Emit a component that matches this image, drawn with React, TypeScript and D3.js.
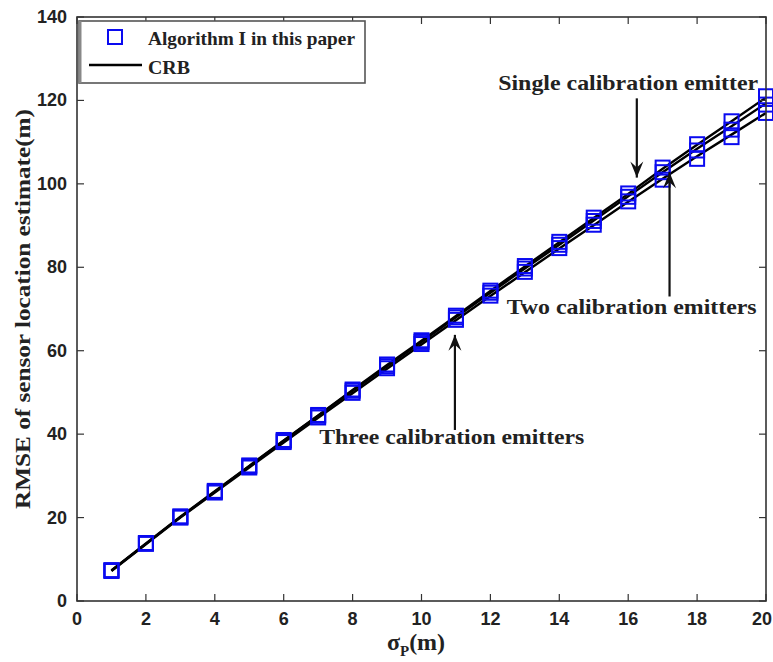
import React, { useEffect } from "react";
import * as d3 from "d3";

// x: position error std σp (m)
const sigmaP = [1, 2, 3, 4, 5, 6, 7, 8, 9, 10, 11, 12, 13, 14, 15, 16, 17, 18, 19, 20];

// RMSE of sensor location estimate (m), Algorithm I
const algSingle = [7.4, 13.9, 20.3, 26.4, 32.5, 38.6, 44.6, 50.7, 56.7, 62.5, 68.4, 74.4, 80.3, 86.1, 91.9, 97.7, 103.9, 109.5, 115.0, 121.0];
const algTwo = [7.3, 13.8, 20.1, 26.2, 32.3, 38.4, 44.4, 50.4, 56.3, 62.1, 68.0, 73.9, 79.7, 85.4, 91.1, 96.9, 102.8, 108.0, 113.0, 119.0];
const algThree = [7.2, 13.7, 20.0, 26.0, 32.0, 38.1, 44.0, 49.9, 55.8, 61.6, 67.4, 73.2, 78.9, 84.6, 90.2, 95.8, 101.0, 106.0, 111.2, 117.0];

// Cramér–Rao bound for the same three configurations
const crbSingle = [7.3, 13.8, 20.2, 26.3, 32.4, 38.5, 44.5, 50.6, 56.6, 62.4, 68.3, 74.3, 80.2, 86.0, 91.8, 97.6, 103.6, 109.4, 115.0, 120.7];
const crbTwo = [7.3, 13.7, 20.1, 26.2, 32.3, 38.4, 44.4, 50.4, 56.3, 62.1, 68.0, 73.9, 79.7, 85.4, 91.2, 97.0, 102.8, 108.4, 113.8, 119.3];
const crbThree = [7.2, 13.6, 20.0, 26.0, 32.0, 38.0, 43.9, 49.8, 55.7, 61.5, 67.3, 73.1, 78.8, 84.5, 90.1, 95.7, 101.2, 106.6, 111.8, 117.0];

const xTicks = [0, 2, 4, 6, 8, 10, 12, 14, 16, 18, 20];
const yTicks = [0, 20, 40, 60, 80, 100, 120, 140];

const legendLabels = ["Algorithm I in this paper", "CRB"];

// annotation texts with arrow tail/tip in data coordinates
const notes = [
  { text: "Single calibration emitter", tx: 16.0, ty: 122.5, len: 260, from: [16.25, 120.5], to: [16.25, 101.5] },
  { text: "Two calibration emitters", tx: 16.1, ty: 68.8, len: 250, from: [17.2, 73.0], to: [17.2, 102.8] },
  { text: "Three calibration emitters", tx: 10.88, ty: 37.6, len: 265, from: [10.97, 41.0], to: [10.97, 63.8] },
];

const W = 773;
const H = 662;
const M = { left: 77, right: 766, top: 17, bottom: 601 };

const serif = "'Liberation Serif', 'Times New Roman', serif";
const narrow = "'Liberation Sans Narrow', 'Arial Narrow', 'Liberation Sans', Arial, sans-serif";

export default function App() {
  useEffect(() => {
    document.body.style.margin = "0";
  }, []);

  const x = d3.scaleLinear().domain([0, 20]).range([M.left, M.right]);
  const y = d3.scaleLinear().domain([0, 140]).range([M.bottom, M.top]);

  const line = d3
    .line<number>()
    .x((_, i) => x(sigmaP[i]))
    .y((d) => y(d));

  const crbs = [crbSingle, crbTwo, crbThree];
  const algs = [algSingle, algTwo, algThree];
  const ms = 14;
  const tick = 7;
  const blue = "#0a0af0";

  const arrowHead = (x1: number, y1: number, x2: number, y2: number) => {
    const ang = Math.atan2(y2 - y1, x2 - x1);
    const len = 16;
    const half = 6.5;
    const back = 10;
    const ux = Math.cos(ang);
    const uy = Math.sin(ang);
    const px = -uy;
    const py = ux;
    const bx = x2 - ux * len;
    const by = y2 - uy * len;
    const nx = x2 - ux * back;
    const ny = y2 - uy * back;
    return `M${x2},${y2} L${bx + px * half},${by + py * half} L${nx},${ny} L${bx - px * half},${by - py * half} Z`;
  };

  return (
    <svg width={W} height={H} style={{ position: "absolute", left: 0, top: 0, background: "#fff" }}>
      {/* CRB curves */}
      {crbs.map((c, k) => (
        <path key={"crb" + k} d={line(c) || ""} fill="none" stroke="#000" strokeWidth={2.4} />
      ))}

      {/* Algorithm I markers */}
      {algs.map((a, k) =>
        a.map((v, i) => (
          <rect
            key={`m${k}-${i}`}
            x={x(sigmaP[i]) - ms / 2}
            y={y(v) - ms / 2}
            width={ms}
            height={ms}
            fill="none"
            stroke={blue}
            strokeWidth={2}
          />
        ))
      )}

      {/* axes box */}
      <rect x={M.left} y={M.top} width={M.right - M.left} height={M.bottom - M.top} fill="none" stroke="#333" strokeWidth={1.6} />
      {xTicks.map((t) => (
        <g key={"xt" + t}>
          <line x1={x(t)} x2={x(t)} y1={M.bottom} y2={M.bottom - tick} stroke="#333" strokeWidth={1.2} />
          <line x1={x(t)} x2={x(t)} y1={M.top} y2={M.top + tick} stroke="#333" strokeWidth={1.2} />
          <text
            x={t === 20 ? W - 1 : x(t)}
            y={M.bottom + 24}
            textAnchor={t === 20 ? "end" : "middle"}
            fontFamily={narrow}
            fontWeight="bold"
            fontSize={18}
            fill="#222"
          >
            {t}
          </text>
        </g>
      ))}
      {yTicks.map((t) => (
        <g key={"yt" + t}>
          <line x1={M.left} x2={M.left + tick} y1={y(t)} y2={y(t)} stroke="#333" strokeWidth={1.2} />
          <line x1={M.right} x2={M.right - tick} y1={y(t)} y2={y(t)} stroke="#333" strokeWidth={1.2} />
          <text x={M.left - 10} y={y(t) + 6} textAnchor="end" fontFamily={narrow} fontWeight="bold" fontSize={18} fill="#222">
            {t}
          </text>
        </g>
      ))}

      {/* axis titles */}
      <text x={416} y={650} textAnchor="middle" fontFamily={serif} fontWeight="bold" fontSize={24} fill="#222">
        σ
        <tspan fontSize={15} dy={6}>P</tspan>
        <tspan dy={-6}>(m)</tspan>
      </text>
      <text
        transform={`translate(30, ${(M.top + M.bottom) / 2}) rotate(-90)`}
        textAnchor="middle"
        fontFamily={serif}
        fontWeight="bold"
        fontSize={21}
        fill="#222"
        textLength={400}
        lengthAdjust="spacingAndGlyphs"
      >
        RMSE of sensor location estimate(m)
      </text>

      {/* annotations */}
      {notes.map((n, k) => {
        const x1 = x(n.from[0]);
        const y1 = y(n.from[1]);
        const x2 = x(n.to[0]);
        const y2 = y(n.to[1]);
        return (
          <g key={"n" + k}>
            <line x1={x1} y1={y1} x2={x2} y2={y2} stroke="#111" strokeWidth={2.2} />
            <path d={arrowHead(x1, y1, x2, y2)} fill="#111" />
            <text
              x={x(n.tx)}
              y={y(n.ty)}
              textAnchor="middle"
              fontFamily={serif}
              fontWeight="bold"
              fontSize={21}
              fill="#222"
              textLength={n.len}
              lengthAdjust="spacingAndGlyphs"
            >
              {n.text}
            </text>
          </g>
        );
      })}

      {/* legend */}
      <g>
        <rect x={79} y={21} width={286} height={62} fill="#fff" stroke="#555" strokeWidth={1.6} />
        <line x1={80} y1={21} x2={80} y2={83} stroke="#888" strokeWidth={3} />
        <rect x={115 - ms / 2} y={37 - ms / 2} width={ms} height={ms} fill="none" stroke={blue} strokeWidth={2} />
        <text x={148} y={45} fontFamily={serif} fontWeight="bold" fontSize={19} fill="#222" textLength={207} lengthAdjust="spacingAndGlyphs">
          {legendLabels[0]}
        </text>
        <line x1={89} x2={142} y1={65} y2={65} stroke="#000" strokeWidth={2.4} />
        <text x={148} y={74} fontFamily={serif} fontWeight="bold" fontSize={19} fill="#222" textLength={42} lengthAdjust="spacingAndGlyphs">
          {legendLabels[1]}
        </text>
      </g>
    </svg>
  );
}
